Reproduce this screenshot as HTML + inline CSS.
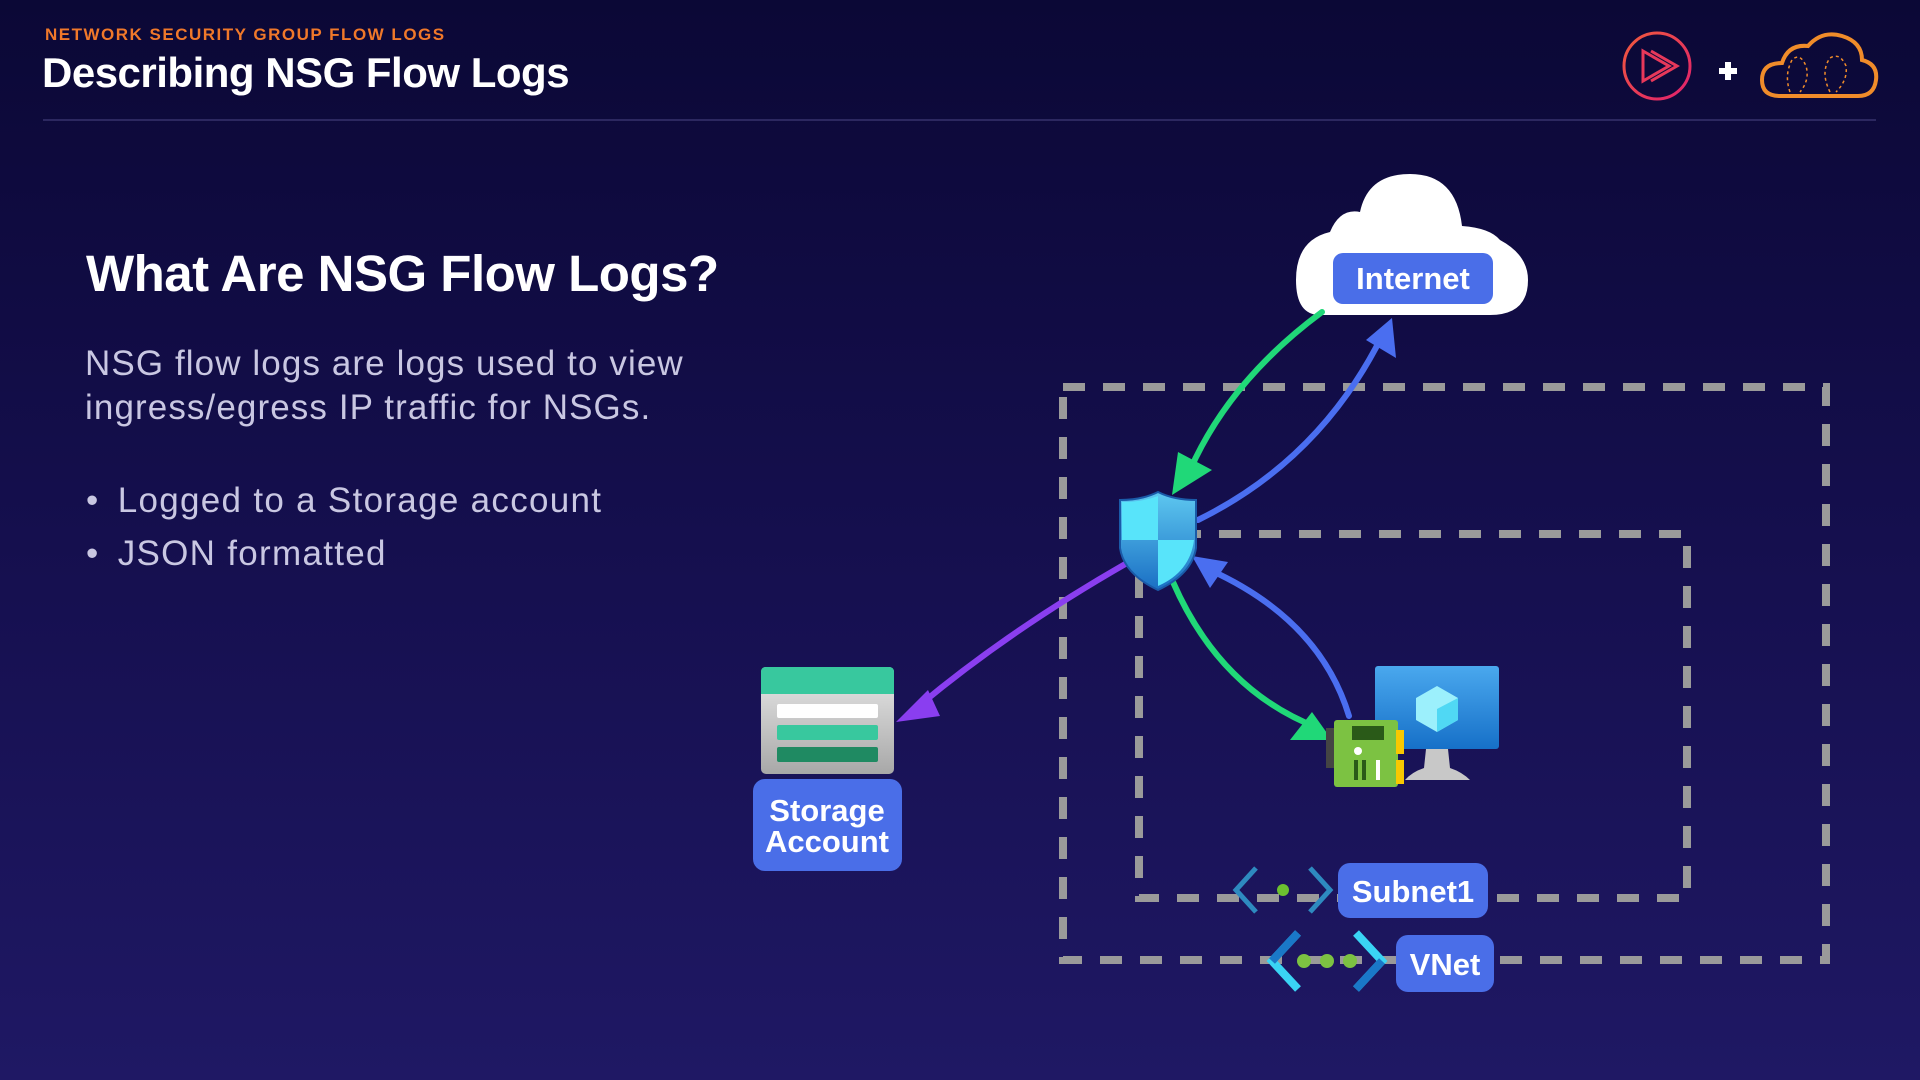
<!DOCTYPE html>
<html><head><meta charset="utf-8"><style>
html,body{margin:0;padding:0}
body{width:1920px;height:1080px;position:relative;overflow:hidden;background:linear-gradient(180deg,#0b0836 0%,#150f4e 50%,#1f1864 100%);font-family:"Liberation Sans",sans-serif}
.t{position:absolute;white-space:nowrap}
</style></head><body>
<div class="t" style="left:45px;top:25px;font-size:17px;font-weight:bold;color:#f0782a;letter-spacing:1.5px">NETWORK SECURITY GROUP FLOW LOGS</div>
<div class="t" style="left:42px;top:49px;font-size:42px;font-weight:bold;color:#fff;letter-spacing:-0.5px">Describing NSG Flow Logs</div>
<div style="position:absolute;left:43px;top:119px;width:1833px;height:2px;background:#2c2860"></div>
<div class="t" style="left:86px;top:244px;font-size:51px;font-weight:bold;color:#fff;letter-spacing:-0.5px">What Are NSG Flow Logs?</div>
<div class="t" style="left:85px;top:342px;font-size:35px;color:#c9c7e2;line-height:44px;letter-spacing:1.1px">NSG flow logs are logs used to view<br>ingress/egress IP traffic for NSGs.</div>
<div class="t" style="left:86px;top:474px;font-size:35px;color:#c9c7e2;line-height:53px;letter-spacing:1.3px"><span style="letter-spacing:0">•&nbsp;&nbsp;</span>Logged to a Storage account<br><span style="letter-spacing:0">•&nbsp;&nbsp;</span>JSON formatted</div>

<svg width="1920" height="1080" style="position:absolute;left:0;top:0" xmlns="http://www.w3.org/2000/svg">
<defs>
<linearGradient id="sh" x1="0" y1="0" x2="0" y2="1"><stop offset="0" stop-color="#5ec8f0"/><stop offset="1" stop-color="#1a6fc4"/></linearGradient>
<linearGradient id="mon" x1="0" y1="0" x2="0" y2="1"><stop offset="0" stop-color="#4aa8ee"/><stop offset="1" stop-color="#1670c8"/></linearGradient>
<linearGradient id="st" x1="0" y1="0" x2="0" y2="1"><stop offset="0" stop-color="#e8e8e8"/><stop offset="1" stop-color="#a8a8a8"/></linearGradient>
<linearGradient id="pl" x1="0" y1="0" x2="1" y2="1"><stop offset="0" stop-color="#f05a3c"/><stop offset="1" stop-color="#e0206e"/></linearGradient>
</defs>
<circle cx="1657" cy="66" r="33" fill="none" stroke="url(#pl)" stroke-width="3"/>
<path d="M1643 51 L1669 66 L1643 81 Z M1651 51 L1677 66 L1651 81" fill="none" stroke="#e8385a" stroke-width="3"/>
<rect x="1719" y="68" width="18" height="6" fill="#fff"/><rect x="1725" y="62" width="6" height="18" fill="#fff"/>
<path d="M1780 96 Q1762 96 1762 80 Q1762 63 1782 63 Q1788 44 1808 46 Q1822 30 1842 36 Q1862 42 1862 60 Q1878 64 1876 80 Q1874 96 1858 96 Z" fill="none" stroke="#f08c2a" stroke-width="4"/>
<path d="M1790 92 Q1784 75 1792 60 Q1800 52 1806 66 Q1810 80 1800 92 M1830 92 Q1820 72 1830 58 Q1840 52 1846 66 Q1848 80 1836 92" fill="none" stroke="#f08c2a" stroke-width="1.5" stroke-dasharray="3 3"/>

<rect x="1063" y="387" width="763" height="573" fill="none" stroke="#9a9a9a" stroke-width="8" stroke-dasharray="22 18"/>
<rect x="1139" y="534" width="548" height="364" fill="none" stroke="#9a9a9a" stroke-width="8" stroke-dasharray="22 18"/>

<path d="M1320 315 Q1296 315 1296 280 Q1296 240 1330 232 Q1340 208 1360 212 Q1368 174 1410 174 Q1456 174 1462 226 Q1490 228 1500 240 Q1528 255 1528 280 Q1528 315 1490 315 Z" fill="#fff"/>
<rect x="1333" y="253" width="160" height="51" rx="10" fill="#4a6ee8"/>
<text x="1413" y="289" text-anchor="middle" font-size="31" font-weight="bold" fill="#fff" font-family="Liberation Sans,sans-serif">Internet</text>

<g fill="none" stroke-width="6" stroke-linecap="round">
<path d="M1322 312 Q1230 380 1190 470" stroke="#20d878"/>
<path d="M1198 520 Q1320 460 1382 336" stroke="#4a6ef0"/>
<path d="M1127 563 Q1010 630 920 705" stroke="#8a3ef0"/>
<path d="M1173 582 Q1220 690 1318 728" stroke="#20d878"/>
<path d="M1349 716 Q1320 620 1210 570" stroke="#4a6ef0"/>
</g>
<polygon points="1172,495 1212,470 1178,452" fill="#20d878"/>
<polygon points="1392,318 1366,340 1396,358" fill="#4a6ef0"/>
<polygon points="896,722 928,690 940,716" fill="#8a3ef0"/>
<polygon points="1332,740 1312,712 1290,740" fill="#20d878"/>
<polygon points="1192,556 1228,562 1210,588" fill="#4a6ef0"/>

<path d="M1158 492 Q1174 500 1196 500 L1196 548 Q1192 574 1158 590 Q1124 574 1120 548 L1120 500 Q1142 500 1158 492 Z" fill="url(#sh)" stroke="#1a5aa8" stroke-width="2"/>
<path d="M1158 496 L1158 540 L1122 540 L1122 502 Q1142 502 1158 496 Z M1158 540 L1194 540 Q1190 572 1158 586 Z" fill="#58e4fa"/>

<rect x="761" y="667" width="133" height="107" rx="5" fill="url(#st)"/>
<path d="M761 672 Q761 667 766 667 L889 667 Q894 667 894 672 L894 694 L761 694 Z" fill="#38c89e"/>
<rect x="777" y="704" width="101" height="14" rx="2" fill="#fff"/>
<rect x="777" y="725" width="101" height="15" rx="2" fill="#38c89e"/>
<rect x="777" y="747" width="101" height="15" rx="2" fill="#1f8a62"/>
<rect x="753" y="779" width="149" height="92" rx="12" fill="#4a6ee8"/>
<text x="827" y="821" text-anchor="middle" font-size="31" font-weight="bold" fill="#fff" font-family="Liberation Sans,sans-serif">Storage</text>
<text x="827" y="852" text-anchor="middle" font-size="31" font-weight="bold" fill="#fff" font-family="Liberation Sans,sans-serif">Account</text>

<rect x="1375" y="666" width="124" height="83" rx="3" fill="url(#mon)"/>
<polygon points="1437,686 1458,698 1458,720 1437,732 1416,720 1416,698" fill="#9cf0fc"/>
<polygon points="1437,709 1458,698 1458,720 1437,732" fill="#50d8f4"/>
<path d="M1426 749 L1448 749 L1450 768 Q1462 772 1470 780 L1405 780 Q1412 772 1424 768 Z" fill="#c8c8c8"/>
<rect x="1326" y="728" width="10" height="40" fill="#444"/>
<rect x="1334" y="720" width="64" height="67" rx="3" fill="#7cc242"/>
<rect x="1396" y="730" width="8" height="24" fill="#f8c800"/><rect x="1396" y="760" width="8" height="24" fill="#f8c800"/>
<rect x="1352" y="726" width="32" height="14" fill="#2a5a18"/>
<circle cx="1358" cy="751" r="4" fill="#fff"/>
<rect x="1354" y="760" width="4" height="20" fill="#2a5a18"/><rect x="1362" y="760" width="4" height="20" fill="#2a5a18"/><rect x="1376" y="760" width="4" height="20" fill="#fff"/>

<path d="M1256 868 L1236 890 L1256 912 M1310 868 L1330 890 L1310 912" fill="none" stroke="#2e8ac0" stroke-width="5"/>
<circle cx="1283" cy="890" r="6" fill="#6cc030"/>
<rect x="1338" y="863" width="150" height="55" rx="12" fill="#4a6ee8"/>
<text x="1413" y="902" text-anchor="middle" font-size="31" font-weight="bold" fill="#fff" font-family="Liberation Sans,sans-serif">Subnet1</text>
<path d="M1298 933 L1272 961 L1298 989 M1356 933 L1382 961 L1356 989" fill="none" stroke="#3ad4f4" stroke-width="8"/>
<path d="M1298 933 L1272 961 M1356 989 L1382 961" fill="none" stroke="#1a78c8" stroke-width="8"/>
<circle cx="1304" cy="961" r="7" fill="#7cc242"/><circle cx="1327" cy="961" r="7" fill="#7cc242"/><circle cx="1350" cy="961" r="7" fill="#7cc242"/>
<rect x="1396" y="935" width="98" height="57" rx="12" fill="#4a6ee8"/>
<text x="1445" y="975" text-anchor="middle" font-size="31" font-weight="bold" fill="#fff" font-family="Liberation Sans,sans-serif">VNet</text>
</svg>
</body></html>
